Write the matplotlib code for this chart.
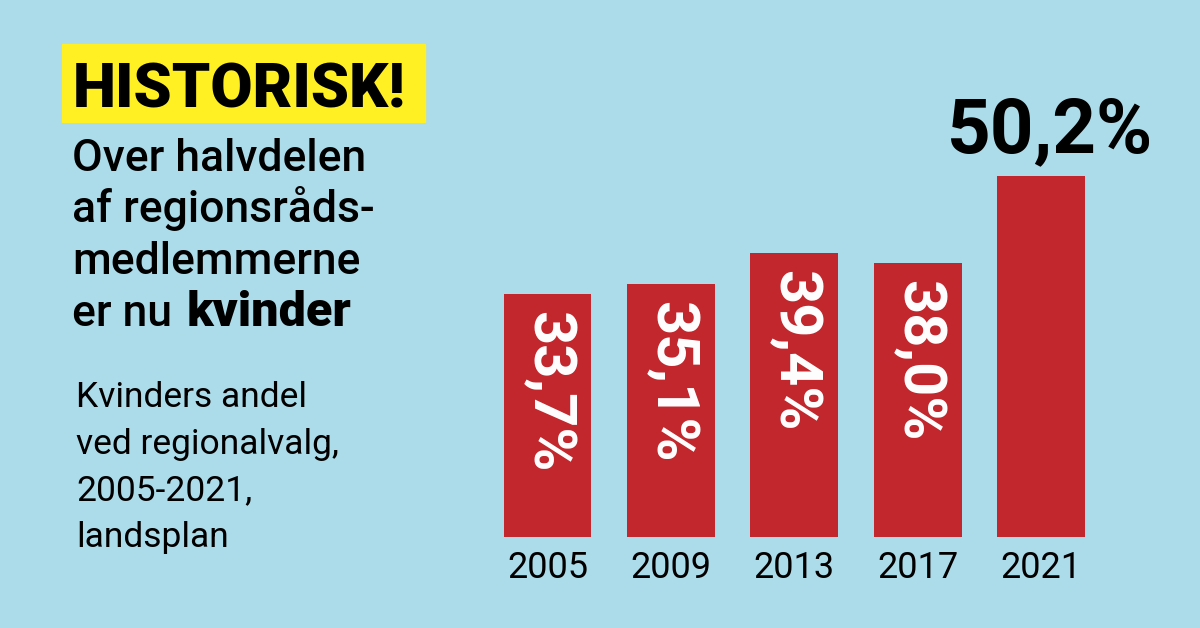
import matplotlib
matplotlib.use("Agg")
import matplotlib.pyplot as plt
from matplotlib.patches import Rectangle

years = ["2005", "2009", "2013", "2017", "2021"]
shares = [33.7, 35.1, 39.4, 38.0, 50.2]
labels = ["33,7%", "35,1%", "39,4%", "38,0%", "50,2%"]

bg = "#acdcea"
red = "#c1272d"
yellow = "#fff023"
font = "Roboto"

fig = plt.figure(figsize=(12, 6.28), dpi=100)
fig.patch.set_facecolor(bg)

# bar axes, placed in pixels
W, H = 1200, 628
ax = fig.add_axes([480 / W, (H - 537) / H, 630 / W, 432 / H])
ax.set_facecolor("none")
x = range(len(years))
ax.bar(x, shares, width=0.713, color=red)
ax.set_ylim(0, 60)
ax.set_xlim(-0.547, 4.56)
for s in ax.spines.values():
    s.set_visible(False)
ax.set_yticks([])
ax.set_xticks(list(x))
ax.set_xticklabels(years, fontsize=26, family=font)
ax.tick_params(axis="x", length=0, pad=9)

for i, (v, lab) in enumerate(zip(shares, labels)):
    if i < len(shares) - 1:
        ax.annotate(lab, (i, v), xytext=(0, -12), textcoords="offset points",
                    rotation=-90, rotation_mode="anchor", ha="left", va="center",
                    color="white", fontsize=43, fontweight="bold", family=font)
    else:
        ax.annotate(lab, (i, v), xytext=(6.5, 17), textcoords="offset points",
                    ha="center", va="baseline", color="black",
                    fontsize=55, fontweight="bold", family=font)

# headline box
fig.patches.append(Rectangle((62 / W, (H - 122) / H), 363 / W, 78 / H,
                             transform=fig.transFigure, color=yellow, zorder=0))
fig.text(73 / W, (H - 108) / H, "HISTORISK!", fontsize=44, fontweight="black",
         family=font, va="baseline", ha="left")

lines = ["Over halvdelen", "af regionsråds-", "medlemmerne"]
for k, t in enumerate(lines):
    fig.text(72 / W, (H - 171 - 51.5 * k) / H, t, fontsize=32, family=font,
             fontweight="medium", va="baseline")
t1 = fig.text(72 / W, (H - 171 - 51.5 * 3) / H, "er nu", fontsize=32, family=font,
              fontweight="medium", va="baseline")
fig.canvas.draw()
bb = t1.get_window_extent()
fig.text((bb.x1 + 15) / W, (H - 171 - 51.5 * 3) / H, "kvinder", fontsize=35,
         family=font, fontweight="black", va="baseline")

sub = ["Kvinders andel", "ved regionalvalg,", "2005-2021,", "landsplan"]
for k, t in enumerate(sub):
    fig.text(76 / W, (H - 407 - 46.7 * k) / H, t, fontsize=25.5, family=font,
             va="baseline")

fig.savefig("out.png", dpi=100, facecolor=bg)
